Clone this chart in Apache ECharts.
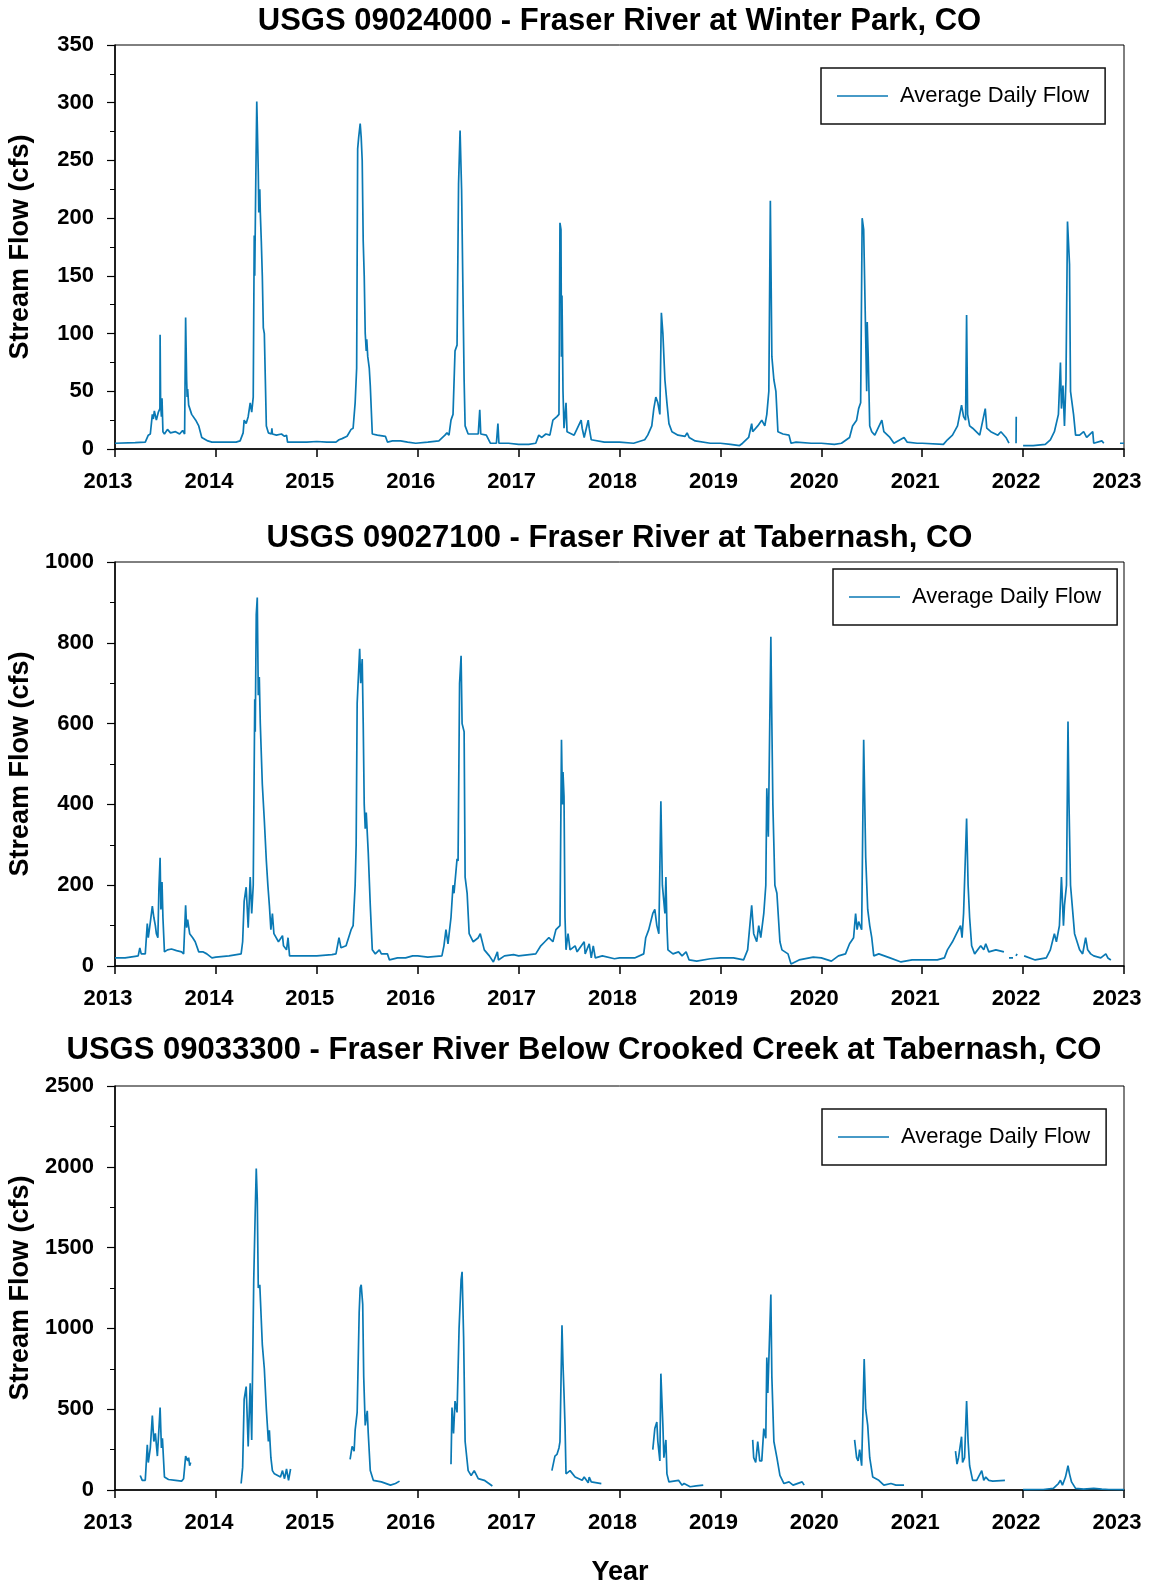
<!DOCTYPE html>
<html>
<head>
<meta charset="utf-8">
<script src="https://cdn.jsdelivr.net/npm/echarts@6/dist/echarts.min.js"></script>
<style>
html,body{margin:0;padding:0;background:#fff;}
#chart{width:1151px;height:1587px;}
</style>
</head>
<body>
<div id="chart"></div>
<script>
// ---------- DATA ----------
const chartTitles = [
  'USGS 09024000 - Fraser River at Winter Park, CO',
  'USGS 09027100 - Fraser River at Tabernash, CO',
  'USGS 09033300 - Fraser River Below Crooked Creek at Tabernash, CO'
];
const seriesName = 'Average Daily Flow';
const yAxisTitle = 'Stream Flow (cfs)';
const xAxisTitle = 'Year';
const xYears = [2013, 2014, 2015, 2016, 2017, 2018, 2019, 2020, 2021, 2022, 2023];
const yAxisMax = [350, 1000, 2500];
const yAxisStep = [50, 200, 500];

const winterParkFlow = [
[2013.00,5],[2013.20,5.5],[2013.30,6],[2013.33,12],[2013.35,13],[2013.37,30],[2013.38,26],[2013.39,33],[2013.41,25],[2013.43,32],[2013.445,35],[2013.447,99],[2013.452,40],[2013.46,28],[2013.466,44],[2013.475,15],[2013.49,13],[2013.52,17],[2013.55,14],[2013.60,15],[2013.64,13],[2013.67,16],[2013.69,13],[2013.70,114],[2013.71,60],[2013.715,45],[2013.72,52],[2013.73,38],[2013.76,30],[2013.80,25],[2013.83,20],[2013.86,10],[2013.92,7],[2013.96,6],[2014.00,6],
[2014.10,6],[2014.20,6],[2014.24,7],[2014.27,14],[2014.28,25],[2014.30,22],[2014.32,28],[2014.34,40],[2014.355,32],[2014.37,45],[2014.38,185],[2014.385,150],[2014.395,230],[2014.405,301],[2014.41,282],[2014.42,240],[2014.425,205],[2014.435,225],[2014.44,205],[2014.45,180],[2014.46,150],[2014.47,105],[2014.48,100],[2014.49,60],[2014.50,20],[2014.52,14],[2014.55,13],[2014.555,18],[2014.56,13],[2014.60,12],[2014.65,13],[2014.68,11],[2014.70,12],[2014.71,6],[2014.80,6],[2014.90,6],[2015.00,6.5],
[2015.10,6],[2015.19,6],[2015.22,8],[2015.25,9],[2015.30,11],[2015.34,17],[2015.36,18],[2015.38,40],[2015.395,70],[2015.405,260],[2015.415,270],[2015.43,282],[2015.44,270],[2015.45,250],[2015.46,180],[2015.47,150],[2015.48,100],[2015.49,85],[2015.495,95],[2015.505,80],[2015.52,70],[2015.53,55],[2015.55,13],[2015.60,12],[2015.68,11],[2015.70,6],[2015.75,7],[2015.83,7],[2015.90,6],[2015.98,5],
[2016.10,6],[2016.21,7],[2016.27,12],[2016.29,14],[2016.31,12],[2016.33,25],[2016.35,30],[2016.37,85],[2016.39,90],[2016.405,230],[2016.42,276],[2016.435,225],[2016.45,225],[2016.46,60],[2016.47,20],[2016.50,13],[2016.55,13],[2016.60,13],[2016.615,34],[2016.625,13],[2016.68,12],[2016.72,5],[2016.78,5],[2016.795,22],[2016.805,5],[2016.90,5],[2017.00,4],
[2017.10,4],[2017.17,5],[2017.20,12],[2017.23,10],[2017.27,13],[2017.31,12],[2017.34,25],[2017.38,28],[2017.40,30],[2017.41,196],[2017.42,190],[2017.425,80],[2017.43,133],[2017.44,50],[2017.45,18],[2017.465,17],[2017.47,40],[2017.48,15],[2017.55,12],[2017.62,25],[2017.63,18],[2017.65,10],[2017.69,25],[2017.70,18],[2017.72,8],[2017.85,6],[2018.00,6],
[2018.14,5],[2018.25,8],[2018.28,12],[2018.32,20],[2018.34,35],[2018.36,45],[2018.38,40],[2018.40,30],[2018.415,118],[2018.43,100],[2018.45,60],[2018.47,40],[2018.49,22],[2018.52,15],[2018.58,12],[2018.65,11],[2018.67,14],[2018.69,10],[2018.75,7],[2018.76,6],[2018.90,5],[2019.00,5],
[2019.10,4],[2019.19,3],[2019.22,5],[2019.28,10],[2019.31,22],[2019.32,15],[2019.37,20],[2019.41,25],[2019.44,20],[2019.46,30],[2019.48,50],[2019.495,215],[2019.51,80],[2019.53,60],[2019.55,50],[2019.57,15],[2019.62,13],[2019.68,12],[2019.70,5],[2019.75,6],[2019.90,5],[2020.00,5],
[2020.13,4],[2020.20,5],[2020.28,10],[2020.31,20],[2020.35,25],[2020.37,35],[2020.39,40],[2020.405,200],[2020.42,190],[2020.45,50],[2020.455,110],[2020.465,80],[2020.48,20],[2020.50,15],[2020.53,12],[2020.60,25],[2020.62,15],[2020.68,10],[2020.72,5],[2020.82,10],[2020.85,6],[2020.95,5],[2021.00,5],
[2021.21,4],[2021.25,8],[2021.30,12],[2021.35,20],[2021.39,38],[2021.41,28],[2021.43,25],[2021.44,116],[2021.45,30],[2021.47,20],[2021.50,18],[2021.57,12],[2021.625,35],[2021.64,18],[2021.68,15],[2021.75,12],[2021.78,15],[2021.83,10],[2021.86,5],[2021.87,'-'],[2021.93,5],[2021.932,28],[2021.935,'-'],
[2022.00,3],[2022.10,3],[2022.22,4],[2022.27,8],[2022.31,15],[2022.35,30],[2022.37,75],[2022.38,35],[2022.395,55],[2022.41,20],[2022.425,60],[2022.44,197],[2022.46,160],[2022.47,50],[2022.50,30],[2022.52,12],[2022.56,12],[2022.60,15],[2022.63,10],[2022.69,15],[2022.70,5],[2022.78,7],[2022.80,5],[2022.81,'-'],[2022.96,5],[2023.00,5]
];

const tabernashFlow = [
[2013.00,20],[2013.10,20],[2013.20,24],[2013.23,25],[2013.246,45],[2013.26,30],[2013.30,30],[2013.32,105],[2013.33,70],[2013.35,108],[2013.37,148],[2013.385,120],[2013.40,100],[2013.41,80],[2013.425,70],[2013.435,190],[2013.447,268],[2013.455,140],[2013.466,208],[2013.475,120],[2013.49,35],[2013.52,40],[2013.56,42],[2013.61,38],[2013.66,35],[2013.68,30],[2013.70,150],[2013.71,95],[2013.72,115],[2013.74,80],[2013.77,70],[2013.795,60],[2013.83,35],[2013.87,35],[2013.91,30],[2013.96,20],[2014.00,22],
[2014.13,25],[2014.25,30],[2014.265,60],[2014.28,160],[2014.30,195],[2014.32,95],[2014.34,220],[2014.355,130],[2014.37,200],[2014.385,660],[2014.39,580],[2014.40,870],[2014.41,912],[2014.42,670],[2014.43,715],[2014.44,600],[2014.46,450],[2014.48,360],[2014.50,260],[2014.515,200],[2014.53,150],[2014.545,90],[2014.56,130],[2014.575,80],[2014.62,60],[2014.66,75],[2014.67,50],[2014.70,40],[2014.715,70],[2014.73,25],[2014.85,25],[2015.00,25],
[2015.15,28],[2015.19,30],[2015.22,70],[2015.24,45],[2015.29,50],[2015.34,90],[2015.36,100],[2015.38,200],[2015.39,300],[2015.40,650],[2015.425,785],[2015.435,700],[2015.45,760],[2015.46,600],[2015.47,400],[2015.48,340],[2015.49,380],[2015.51,280],[2015.53,150],[2015.55,40],[2015.58,30],[2015.62,40],[2015.64,30],[2015.70,30],[2015.72,15],[2015.80,20],[2015.88,20],[2015.95,25],[2016.00,25],
[2016.10,22],[2016.24,25],[2016.26,50],[2016.28,90],[2016.30,55],[2016.33,120],[2016.35,200],[2016.36,180],[2016.39,265],[2016.40,260],[2016.415,700],[2016.43,768],[2016.44,600],[2016.45,600],[2016.46,580],[2016.47,220],[2016.49,180],[2016.51,80],[2016.55,60],[2016.60,70],[2016.62,80],[2016.66,40],[2016.71,25],[2016.75,10],[2016.79,35],[2016.80,15],[2016.86,25],[2016.95,28],[2017.00,25],
[2017.17,30],[2017.22,50],[2017.26,60],[2017.30,70],[2017.34,60],[2017.37,90],[2017.41,100],[2017.425,560],[2017.435,400],[2017.44,480],[2017.45,420],[2017.46,120],[2017.47,40],[2017.49,80],[2017.51,40],[2017.56,50],[2017.58,35],[2017.65,60],[2017.66,30],[2017.70,55],[2017.72,20],[2017.74,50],[2017.76,20],[2017.83,25],[2017.95,18],[2018.00,20],
[2018.15,20],[2018.24,30],[2018.26,70],[2018.29,90],[2018.33,130],[2018.35,140],[2018.37,100],[2018.39,80],[2018.41,408],[2018.425,200],[2018.45,130],[2018.46,220],[2018.47,100],[2018.48,40],[2018.53,30],[2018.585,35],[2018.62,25],[2018.66,35],[2018.69,15],[2018.765,12],[2018.90,18],[2019.00,20],
[2019.13,20],[2019.23,15],[2019.27,40],[2019.31,150],[2019.33,80],[2019.36,60],[2019.38,100],[2019.40,70],[2019.43,130],[2019.45,200],[2019.46,440],[2019.475,320],[2019.50,815],[2019.51,600],[2019.52,400],[2019.54,200],[2019.56,180],[2019.59,60],[2019.61,40],[2019.67,30],[2019.70,5],[2019.78,15],[2019.92,22],[2020.00,20],
[2020.10,12],[2020.17,25],[2020.24,30],[2020.28,55],[2020.32,70],[2020.34,130],[2020.355,90],[2020.37,110],[2020.40,90],[2020.42,560],[2020.44,270],[2020.455,270],[2020.46,140],[2020.48,100],[2020.50,70],[2020.52,25],[2020.57,30],[2020.68,20],[2020.79,10],[2020.90,15],[2021.00,15],
[2021.15,15],[2021.22,20],[2021.25,40],[2021.30,60],[2021.34,80],[2021.38,100],[2021.395,70],[2021.41,130],[2021.44,365],[2021.455,200],[2021.47,120],[2021.49,50],[2021.52,30],[2021.58,50],[2021.61,40],[2021.63,55],[2021.66,35],[2021.73,40],[2021.81,35],[2021.82,'-'],[2021.86,20],[2021.90,20],[2021.905,'-'],[2021.93,25],[2021.94,30],[2021.945,'-'],
[2022.01,25],[2022.12,15],[2022.23,20],[2022.27,40],[2022.31,80],[2022.33,60],[2022.36,100],[2022.38,220],[2022.40,100],[2022.41,150],[2022.43,200],[2022.445,605],[2022.455,400],[2022.47,200],[2022.49,140],[2022.51,80],[2022.56,40],[2022.59,30],[2022.62,70],[2022.64,40],[2022.67,30],[2022.70,25],[2022.77,20],[2022.82,30],[2022.84,20],[2022.87,15]
];

const crookedCreekFlow = [
[2013.25,90],[2013.26,95],[2013.27,60],[2013.28,50],[2013.30,60],[2013.32,280],[2013.33,170],[2013.35,260],[2013.37,460],[2013.385,300],[2013.40,350],[2013.42,210],[2013.43,200],[2013.44,430],[2013.447,510],[2013.46,260],[2013.47,320],[2013.49,80],[2013.53,65],[2013.60,60],[2013.66,55],[2013.68,70],[2013.70,210],[2013.72,180],[2013.73,200],[2013.74,150],[2013.75,170],[2013.76,'-'],
[2014.25,40],[2014.265,140],[2014.28,560],[2014.30,640],[2014.32,270],[2014.34,660],[2014.355,310],[2014.375,1300],[2014.39,1730],[2014.40,1990],[2014.41,1800],[2014.42,1250],[2014.435,1270],[2014.46,900],[2014.48,750],[2014.50,500],[2014.52,300],[2014.53,370],[2014.545,200],[2014.56,120],[2014.58,100],[2014.64,80],[2014.66,120],[2014.68,70],[2014.70,130],[2014.72,60],[2014.74,130],[2014.75,'-'],
[2015.33,190],[2015.35,270],[2015.37,240],[2015.38,370],[2015.40,480],[2015.42,1100],[2015.43,1250],[2015.44,1270],[2015.455,1150],[2015.465,700],[2015.48,400],[2015.50,490],[2015.51,350],[2015.53,120],[2015.56,60],[2015.64,50],[2015.73,30],[2015.78,40],[2015.82,55],[2015.83,'-'],
[2016.33,160],[2016.34,510],[2016.355,350],[2016.37,550],[2016.39,480],[2016.41,1000],[2016.43,1300],[2016.44,1350],[2016.455,950],[2016.465,950],[2016.47,300],[2016.50,120],[2016.53,90],[2016.56,120],[2016.60,70],[2016.66,60],[2016.74,25],[2016.75,'-'],
[2017.33,120],[2017.36,210],[2017.38,220],[2017.40,260],[2017.41,300],[2017.43,1020],[2017.44,780],[2017.45,600],[2017.46,400],[2017.47,100],[2017.51,120],[2017.56,80],[2017.63,60],[2017.65,80],[2017.69,45],[2017.70,80],[2017.72,50],[2017.82,40],[2017.83,'-'],
[2018.33,250],[2018.35,380],[2018.37,420],[2018.38,300],[2018.40,180],[2018.41,720],[2018.43,400],[2018.44,200],[2018.46,310],[2018.47,100],[2018.49,50],[2018.585,60],[2018.62,30],[2018.64,40],[2018.70,20],[2018.76,25],[2018.83,30],[2018.84,'-'],
[2019.32,310],[2019.33,200],[2019.35,170],[2019.37,300],[2019.39,180],[2019.41,180],[2019.43,380],[2019.45,320],[2019.46,820],[2019.47,600],[2019.50,1210],[2019.51,700],[2019.53,300],[2019.56,200],[2019.59,90],[2019.63,40],[2019.68,50],[2019.72,30],[2019.81,50],[2019.83,30],[2019.84,'-'],
[2020.33,310],[2020.35,200],[2020.365,180],[2020.38,250],[2020.40,150],[2020.425,810],[2020.44,500],[2020.46,400],[2020.48,200],[2020.51,80],[2020.57,60],[2020.62,30],[2020.69,40],[2020.74,30],[2020.82,30],[2020.83,'-'],
[2021.33,240],[2021.345,160],[2021.36,200],[2021.39,330],[2021.40,170],[2021.42,200],[2021.44,550],[2021.455,300],[2021.47,150],[2021.50,60],[2021.54,60],[2021.59,120],[2021.61,60],[2021.63,80],[2021.66,60],[2021.70,55],[2021.82,60],[2021.83,'-'],
[2022.00,2],[2022.20,3],[2022.30,10],[2022.35,40],[2022.37,60],[2022.39,30],[2022.42,80],[2022.445,150],[2022.46,100],[2022.48,50],[2022.52,10],[2022.60,5],[2022.70,10],[2022.78,5],[2022.85,3],[2023.00,2]
];

const allFlows = [winterParkFlow, tabernashFlow, crookedCreekFlow];

// ---------- LAYOUT / STYLE ----------
const FONT = '"Liberation Sans", Arial, Helvetica, sans-serif';
const LINE_COLOR = '#0a79b4';
const gridTops = [45, 562, 1086];
const gridH = 404;
const gridLeft = 115;
const gridW = 1009;
const legendPos = [[821, 68], [833, 569], [822, 1109]];
const titlePos = [[619.5, 21], [619.5, 538], [584, 1050]];

const grids = [], xAxes = [], yAxes = [], series = [], legends = [], graphics = [];
for (let i = 0; i < 3; i++) {
  grids.push({left: gridLeft, top: gridTops[i], width: gridW, height: gridH,
    show: true, borderColor: '#000', borderWidth: 1, backgroundColor: 'transparent'});
  xAxes.push({type: 'value', gridIndex: i, min: xYears[0], max: xYears[xYears.length - 1], interval: 1,
    axisLine: {show: true, onZero: false, lineStyle: {color: '#000', width: 1.5}},
    axisTick: {show: true, length: 8, lineStyle: {color: '#000', width: 1.5}},
    splitLine: {show: false},
    axisLabel: {color: '#000', fontSize: 22, fontWeight: 'bold', fontFamily: FONT, margin: 22,
      padding: [0, 14, 0, 0],
      formatter: v => String(Math.round(v))}});
  yAxes.push({type: 'value', gridIndex: i, min: 0, max: yAxisMax[i], interval: yAxisStep[i],
    axisLine: {show: true, lineStyle: {color: '#000', width: 1.5}},
    axisTick: {show: true, length: 8, lineStyle: {color: '#000', width: 1.2}},
    minorTick: {show: true, splitNumber: 2, length: 5, lineStyle: {color: '#000', width: 1}},
    splitLine: {show: false}, minorSplitLine: {show: false},
    axisLabel: {color: '#000', fontSize: 22, fontWeight: 'bold', fontFamily: FONT, margin: 21,
      formatter: v => String(v)}});
  series.push({name: seriesName, type: 'line', xAxisIndex: i, yAxisIndex: i, data: allFlows[i],
    symbol: 'none', showSymbol: false, connectNulls: false, animation: false,
    lineStyle: {color: LINE_COLOR, width: 1.7}, itemStyle: {color: LINE_COLOR}});
  legends.push({data: [{name: seriesName, icon: 'path://M0,0L51,0L51,1.6L0,1.6Z'}],
    left: legendPos[i][0], top: legendPos[i][1], orient: 'horizontal',
    padding: [17, 16, 17, 16], itemWidth: 51, itemHeight: 14, borderColor: '#111', borderWidth: 1.5,
    backgroundColor: '#fff', selectedMode: false, symbolKeepAspect: true,
    itemStyle: {color: LINE_COLOR, borderWidth: 0},
    textStyle: {color: '#000', fontSize: 22, fontFamily: FONT, padding: [0, 0, 0, 7]}});
  graphics.push({type: 'text', x: titlePos[i][0], y: titlePos[i][1],
    style: {text: chartTitles[i], font: 'bold 31px ' + FONT, fill: '#000', textAlign: 'center', textVerticalAlign: 'middle'}});
  graphics.push({type: 'text', x: 21, y: gridTops[i] + gridH / 2, rotation: Math.PI / 2,
    style: {text: yAxisTitle, font: 'bold 27px ' + FONT, fill: '#000', textAlign: 'center', textVerticalAlign: 'middle'}});
}
graphics.push({type: 'text', x: 620, y: 1573,
  style: {text: xAxisTitle, font: 'bold 27px ' + FONT, fill: '#000', textAlign: 'center', textVerticalAlign: 'middle'}});

const chart = echarts.init(document.getElementById('chart'), null, {renderer: 'canvas'});
chart.setOption({
  backgroundColor: '#fff',
  animation: false,
  grid: grids, xAxis: xAxes, yAxis: yAxes, series: series, legend: legends, graphic: graphics
});
</script>
</body>
</html>
